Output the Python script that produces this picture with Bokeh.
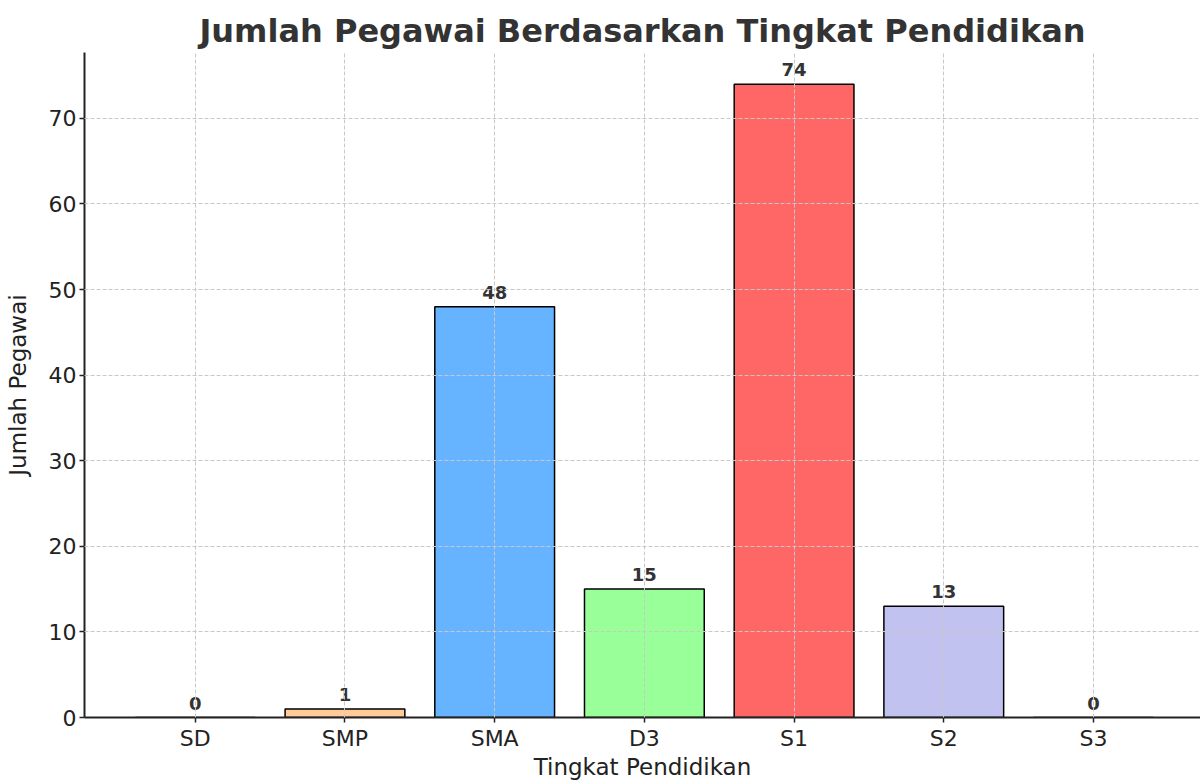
from bokeh.plotting import figure
from bokeh.models import Range1d, FixedTicker, ColumnDataSource, LabelSet
from bokeh.core.properties import value
from bokeh.embed import file_html
from bokeh.resources import INLINE

categories = ["SD", "SMP", "SMA", "D3", "S1", "S2", "S3"]
counts = [0, 1, 48, 15, 74, 13, 0]
colors = ["#ff9999", "#ffcc99", "#66b3ff", "#99ff99", "#ff6666", "#c2c2f0", "#ffb3e6"]
x_title = "Tingkat Pendidikan"
y_title = "Jumlah Pegawai"
chart_title = "Jumlah Pegawai Berdasarkan Tingkat Pendidikan"

xs = list(range(len(categories)))
src = ColumnDataSource(dict(x=xs, top=counts, color=colors,
                            label=[str(c) for c in counts]))

p = figure(width=1200, height=782, output_backend="svg", toolbar_location=None,
           x_range=Range1d(-0.74, 6.715), y_range=Range1d(0, max(counts) * 1.05),
           min_border_left=84, min_border_right=0, min_border_top=52, min_border_bottom=64)

p.title.text = chart_title
p.title.text_font = "DejaVu Sans"
p.title.text_font_size = "32px"
p.title.text_font_style = "bold"
p.title.text_color = "#333333"
p.title.align = "center"
p.title.standoff = 5
p.title.offset = 0

p.vbar(x="x", top="top", bottom=0, width=0.8, source=src, fill_color="color",
       line_color="black", line_width=1.5)

labels = LabelSet(x="x", y="top", text="label", source=src, text_align="center",
                  text_baseline="alphabetic", y_offset=8, text_font=value("DejaVu Sans"),
                  text_font_size=value("18px"), text_font_style=value("bold"),
                  text_color=value("#333333"))
p.add_layout(labels)

p.outline_line_color = None
for ax in (p.xaxis[0], p.yaxis[0]):
    ax.axis_line_color = "#222222"
    ax.axis_line_width = 2
    ax.major_tick_line_color = "#222222"
    ax.major_tick_line_width = 1.5
    ax.major_tick_out = 5
    ax.major_tick_in = 0
    ax.minor_tick_line_color = None
    ax.major_label_text_font = "DejaVu Sans"
    ax.major_label_text_font_size = "22px"
    ax.major_label_text_color = "#222222"
    ax.axis_label_text_font = "DejaVu Sans"
    ax.axis_label_text_font_size = "23px"
    ax.axis_label_text_font_style = "normal"
    ax.axis_label_text_color = "#222222"

p.xaxis.ticker = FixedTicker(ticks=xs)
p.xaxis.major_label_overrides = {i: c for i, c in zip(xs, categories)}
p.xaxis.axis_label = x_title
p.xaxis.major_label_standoff = 3
p.xaxis.axis_label_standoff = 0
p.yaxis.ticker = FixedTicker(ticks=list(range(0, 80, 10)))
p.yaxis.axis_label = y_title
p.yaxis.major_label_standoff = 3
p.yaxis.axis_label_standoff = 15

for g in (p.xgrid[0], p.ygrid[0]):
    g.grid_line_color = "#c8c8c8"
    g.grid_line_dash = "4 2"
    g.grid_line_width = 1
    g.level = "overlay"
p.xgrid.ticker = FixedTicker(ticks=xs)

open("out.html", "w").write(file_html(p, INLINE))
